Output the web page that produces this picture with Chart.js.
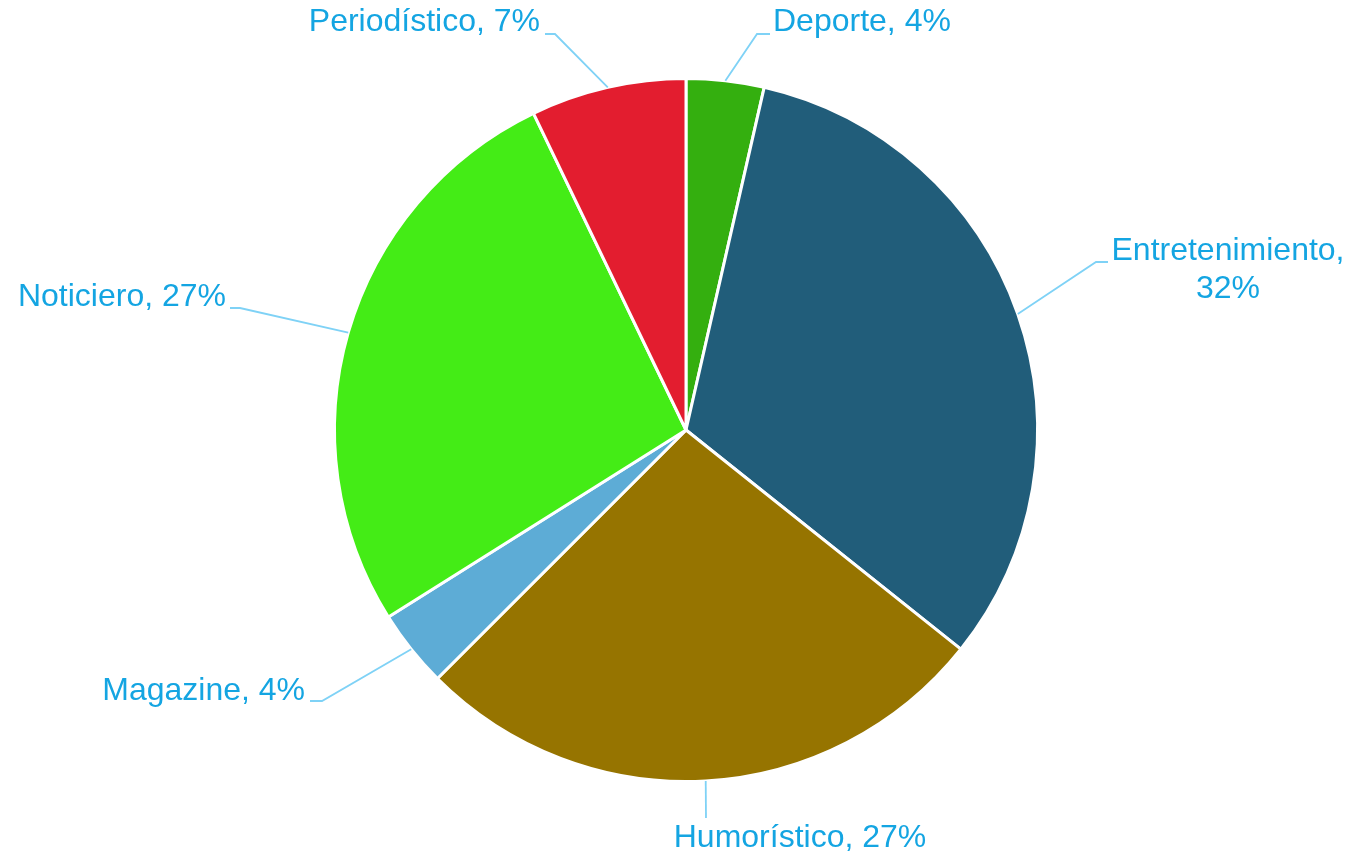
<!DOCTYPE html>
<html lang="es">
<head>
    <meta charset="UTF-8">
    <title>Tipos de programa</title>
    <script src="https://cdn.jsdelivr.net/npm/chart.js"></script>
    <style>
        body { margin: 0; background: #fff; }
        .chart-box { width: 1360px; height: 856px; }
    </style>
</head>
<body>
    <div class="chart-box">
        <canvas id="pieChart" width="1360" height="856"></canvas>
    </div>

    <script>
        // data
        const categories = ['Deporte', 'Entretenimiento', 'Humorístico', 'Magazine', 'Noticiero', 'Periodístico'];
        const counts = [2, 18, 15, 2, 15, 4];
        const sliceColors = ['#34AF0F', '#215D7A', '#967400', '#5DACD6', '#44EC16', '#E31D2F'];

        // where each label text sits, and the elbow of its leader line
        const labelPlaces = [
            { x: 773, y: 22, align: 'left', lines: 1, elbow: [[770, 34], [757, 34]] },
            { x: 1228, y: 251, align: 'center', lines: 2, elbow: [[1108, 262], [1096, 262]] },
            { x: 800, y: 838, align: 'center', lines: 1, elbow: [[706, 818]] },
            { x: 305, y: 691, align: 'right', lines: 1, elbow: [[310, 701], [322, 701]] },
            { x: 226, y: 297, align: 'right', lines: 1, elbow: [[230, 308], [240, 308]] },
            { x: 540, y: 22, align: 'right', lines: 1, elbow: [[545, 34], [555, 34]] }
        ];

        const total = counts.reduce((a, b) => a + b, 0);

        const labelPlugin = {
            id: 'pieLabels',
            afterDatasetsDraw(chart) {
                const ctx = chart.ctx;
                const arcs = chart.getDatasetMeta(0).data;
                ctx.save();
                arcs.forEach((arc, i) => {
                    const p = arc.getProps(['x', 'y', 'startAngle', 'endAngle', 'outerRadius']);
                    const mid = (p.startAngle + p.endAngle) / 2;
                    const ex = p.x + Math.cos(mid) * p.outerRadius;
                    const ey = p.y + Math.sin(mid) * p.outerRadius;
                    const place = labelPlaces[i];
                    const pct = Math.round(counts[i] / total * 100) + '%';

                    // leader line
                    ctx.strokeStyle = '#7FD2F6';
                    ctx.lineWidth = 1.8;
                    ctx.beginPath();
                    place.elbow.forEach((pt, k) => {
                        if (k === 0) ctx.moveTo(pt[0], pt[1]);
                        else ctx.lineTo(pt[0], pt[1]);
                    });
                    ctx.lineTo(ex, ey);
                    ctx.stroke();

                    // text
                    ctx.fillStyle = '#14A5E2';
                    ctx.font = '32px "Liberation Sans", Arial, sans-serif';
                    ctx.textAlign = place.align;
                    ctx.textBaseline = 'middle';
                    if (place.lines === 2) {
                        ctx.fillText(categories[i] + ',', place.x, place.y);
                        ctx.fillText(pct, place.x, place.y + 38);
                    } else {
                        ctx.fillText(categories[i] + ', ' + pct, place.x, place.y);
                    }
                });
                ctx.restore();
            }
        };

        new Chart(document.getElementById('pieChart'), {
            type: 'pie',
            data: {
                labels: categories,
                datasets: [{
                    data: counts,
                    backgroundColor: sliceColors,
                    borderColor: '#ffffff',
                    borderWidth: 3
                }]
            },
            options: {
                responsive: false,
                animation: false,
                layout: { padding: { top: 77, bottom: 73, left: 333, right: 321 } },
                plugins: {
                    legend: { display: false },
                    tooltip: { enabled: false }
                }
            },
            plugins: [labelPlugin]
        });
    </script>
</body>
</html>
